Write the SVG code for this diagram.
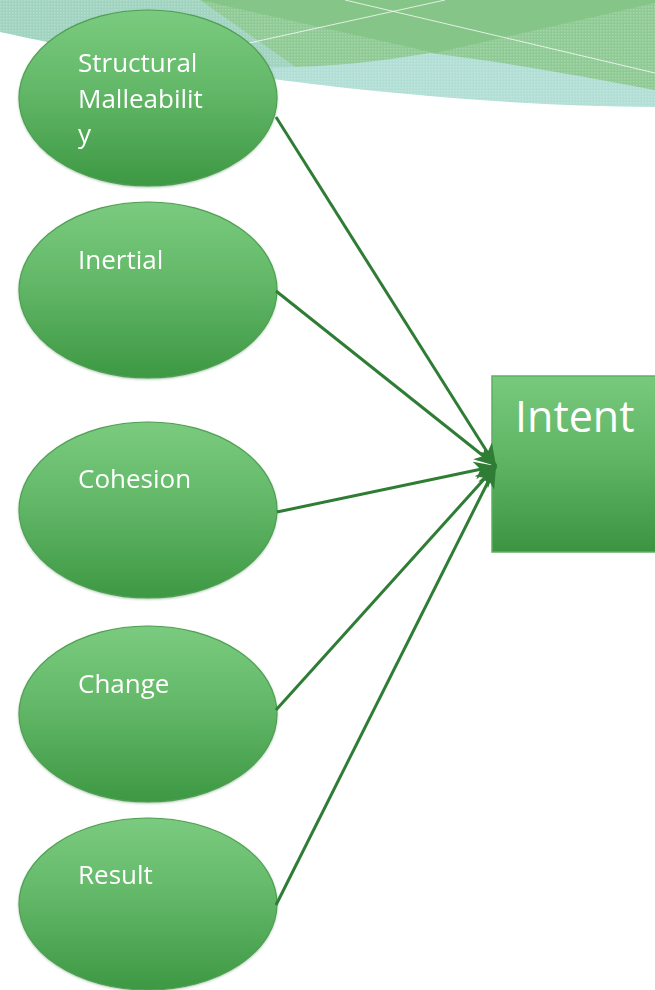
<svg xmlns="http://www.w3.org/2000/svg" width="655" height="990" viewBox="0 0 655 990">
  <defs>
    <style>
      .node-shape { fill: url(#nodeFill); stroke: #4f9f53; stroke-width: 1.2; }
      .label { font-family: "Open Sans", "Noto Sans", "Liberation Sans", sans-serif; fill: #ffffff; }
      .small { font-size: 26px; }
      .big { font-size: 43px; }
      .link { stroke: #2f7d35; stroke-width: 3; fill: none; marker-end: url(#stealth); }
      .streak { stroke: #ffffff; stroke-opacity: 0.75; stroke-width: 1; fill: none; }
    </style>
    <linearGradient id="nodeFill" x1="0" y1="0" x2="0" y2="1">
      <stop offset="0" stop-color="#7acb7f"/>
      <stop offset="0.45" stop-color="#63b868"/>
      <stop offset="1" stop-color="#3d9843"/>
    </linearGradient>
    <linearGradient id="boxFill" x1="0" y1="0" x2="0" y2="1">
      <stop offset="0" stop-color="#78c97d"/>
      <stop offset="0.45" stop-color="#60b665"/>
      <stop offset="1" stop-color="#3c9442"/>
    </linearGradient>
    <pattern id="dots" width="3" height="3" patternUnits="userSpaceOnUse">
      <rect x="0" y="0" width="1.5" height="1.5" fill="#ffffff" fill-opacity="0.22"/>
    </pattern>
    <marker id="stealth" markerUnits="userSpaceOnUse" markerWidth="24" markerHeight="20" refX="22" refY="10" orient="auto">
      <path d="M0,1 L22,10 L0,19 L6,10 Z" fill="#2f7d35"/>
    </marker>
    <filter id="soft" x="-10%" y="-10%" width="120%" height="120%">
      <feDropShadow dx="0" dy="1" stdDeviation="1" flood-color="#2d6b31" flood-opacity="0.35"/>
    </filter>
  </defs>

  <rect width="655" height="990" fill="#ffffff"/>

  <!-- header band: layered waves -->
  <g id="header">
    <rect x="0" y="0" width="655" height="110" fill="#a0d3c0"/>
    <rect x="0" y="0" width="655" height="110" fill="url(#dots)"/>
    <path d="M200,0 L655,0 L655,95 L420,60 L300,70 Z" fill="#8fca95"/>
    <path d="M200,0 L655,0 L655,95 L420,60 L300,70 Z" fill="url(#dots)"/>
    <path d="M200,0 L655,0 L655,3 L435,53 Z" fill="#86c588"/>
    <path d="M120,50 C230,75 330,70 430,53 C520,64 600,80 655,90 L655,110 L120,110 Z" fill="#b1ded5"/>
    <path d="M120,50 C230,75 330,70 430,53 C520,64 600,80 655,90 L655,110 L120,110 Z" fill="url(#dots)"/>
    <path d="M0,32 C150,65 400,105 655,107 L655,115 L0,115 Z" fill="#ffffff"/>
    <line class="streak" x1="240" y1="45" x2="445" y2="0"/>
    <line class="streak" x1="345" y1="0" x2="655" y2="73"/>
  </g>

  <g id="node-structural" filter="url(#soft)">
    <ellipse class="node-shape" cx="148" cy="98" rx="129" ry="88"/>
    <text class="label small" x="78" y="72">Structural</text>
    <text class="label small" x="78" y="107.5">Malleabilit</text>
    <text class="label small" x="78" y="143">y</text>
  </g>

  <g id="node-inertial" filter="url(#soft)">
    <ellipse class="node-shape" cx="148" cy="290" rx="129" ry="88"/>
    <text class="label small" x="78" y="269">Inertial</text>
  </g>

  <g id="node-cohesion" filter="url(#soft)">
    <ellipse class="node-shape" cx="148" cy="510" rx="129" ry="88"/>
    <text class="label small" x="78" y="488">Cohesion</text>
  </g>

  <g id="node-change" filter="url(#soft)">
    <ellipse class="node-shape" cx="148" cy="714" rx="129" ry="88"/>
    <text class="label small" x="78" y="693">Change</text>
  </g>

  <g id="node-result" filter="url(#soft)">
    <ellipse class="node-shape" cx="148" cy="904" rx="129" ry="86"/>
    <text class="label small" x="78" y="884">Result</text>
  </g>

  <g id="node-intent">
    <rect x="492" y="376" width="175" height="176" fill="url(#boxFill)" stroke="#5db061" stroke-width="1.5"/>
    <text class="label big" x="515" y="432">Intent</text>
  </g>

  <!-- connectors, drawn last so the arrowheads sit on the box edge -->
  <g id="connectors">
    <line class="link" x1="276" y1="117" x2="496" y2="466"/>
    <line class="link" x1="276" y1="291" x2="496" y2="466"/>
    <line class="link" x1="277" y1="512" x2="496" y2="466"/>
    <line class="link" x1="276" y1="710" x2="496" y2="466"/>
    <line class="link" x1="276" y1="905" x2="496" y2="466"/>
  </g>
</svg>
